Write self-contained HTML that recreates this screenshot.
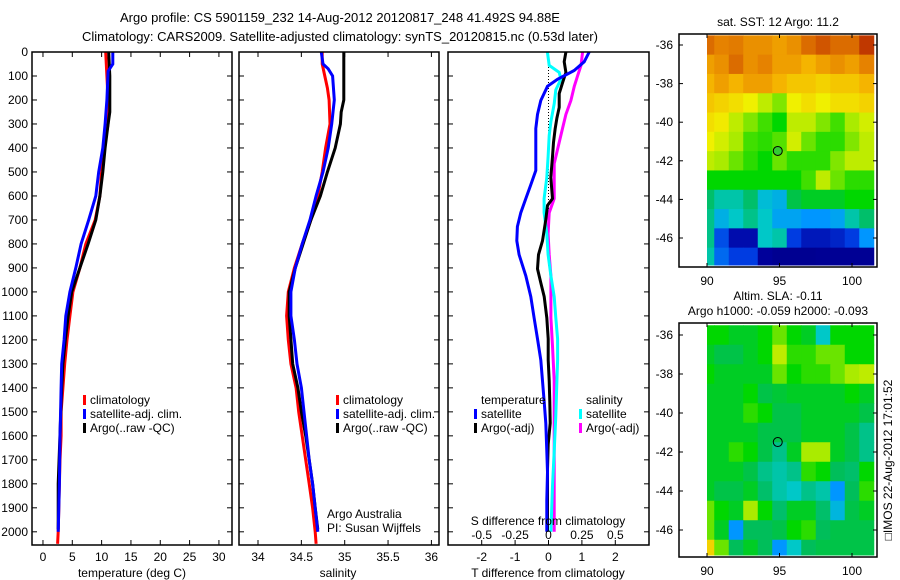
<!DOCTYPE html>
<html><head><meta charset="utf-8"><style>
body{margin:0;background:#fff}
svg{display:block;font-family:"Liberation Sans",sans-serif;font-size:12px}
</style></head><body>
<svg id="fig" width="900" height="580" viewBox="0 0 900 580">
<rect width="900" height="580" fill="#fff"/>
<text x="340" y="22" text-anchor="middle" font-size="13">Argo profile: CS 5901159_232 14-Aug-2012 20120817_248 41.492S 94.88E</text>
<text x="340" y="41" text-anchor="middle" font-size="13">Climatology: CARS2009. Satellite-adjusted climatology: synTS_20120815.nc (0.53d later)</text>
<g id="g1"></g>
<g id="g2"></g>
<g id="g3"></g>
<g id="m1"></g>
<g id="m2"></g>
<text transform="translate(892,460) rotate(-90)" text-anchor="middle">□IMOS 22-Aug-2012 17:01:52</text>
</svg>
<script>
// ---- Profile data ----
const tempDepth=[0,50,100,200,300,400,500,600,700,800,900,1000,1100,1200,1300,1400,1500,1600,1700,1800,2000,2050];
const tempClim=[10.7,10.8,10.9,11.1,11.1,10.4,10.0,9.7,8.9,7.3,6.3,5.1,4.6,4.1,3.7,3.4,3.1,3.1,2.9,2.8,2.6,2.5];
const tempSatDepth=[0,50,80,200,300,400,500,600,700,800,900,1000,1100,1200,1300,1400,1500,1600,1800,2000];
const tempSat=[11.9,11.9,11.1,10.9,10.6,10.2,9.5,9.0,7.8,6.5,5.6,4.6,3.9,3.6,3.2,3.1,3.0,2.9,2.8,2.6];
const tempArgoDepth=[0,100,250,300,400,500,600,700,800,900,1000,1100,1200,1300,1400,1800,1990];
const tempArgo=[11.2,11.4,11.4,11.1,10.6,10.2,9.7,9.0,7.7,6.3,4.9,4.3,3.8,3.4,3.2,2.6,2.6];

const salDepth=[0,50,100,150,200,300,400,500,600,700,800,900,1000,1100,1200,1300,1400,1500,1600,1700,1800,1900,2000,2050];
const salClim=[34.74,34.74,34.77,34.80,34.82,34.83,34.78,34.74,34.69,34.61,34.51,34.42,34.35,34.33,34.35,34.38,34.44,34.47,34.51,34.55,34.59,34.63,34.66,34.67];
const salSatDepth=[0,50,70,100,200,300,400,500,600,700,800,900,1000,1100,1200,1300,1400,1500,1600,1700,1800,1900,2000];
const salSat=[34.73,34.75,34.81,34.86,34.88,34.85,34.81,34.75,34.67,34.60,34.51,34.43,34.38,34.38,34.42,34.45,34.50,34.53,34.56,34.59,34.63,34.66,34.69];
const salArgoDepth=[0,200,250,300,400,500,600,700,800,900,1000,1100,1300,1400,1500,1600,1700,1800,1900,1990];
const salArgo=[34.99,34.99,34.96,34.95,34.89,34.80,34.72,34.61,34.52,34.43,34.36,34.36,34.40,34.46,34.50,34.55,34.59,34.63,34.66,34.69];

const dTSatDepth=[0,41,77,114,143,202,260,319,406,494,553,611,670,728,787,845,933,1020,1108,1196,1284,1371,1459,1547,1664,1751,1868,2000];
const dTSat=[1.22,1.07,0.77,0.27,-0.03,-0.23,-0.33,-0.38,-0.38,-0.38,-0.53,-0.68,-0.83,-0.93,-0.95,-0.88,-0.68,-0.53,-0.43,-0.33,-0.23,-0.18,-0.13,-0.08,-0.05,-0.03,-0.05,-0.05];
const dTArgoDepth=[0,41,85,129,173,231,275,319,377,436,523,611,640,699,787,845,904,962,1020,1108,1196,1284,1371,1459,1547,1635,1737,1868,2000];
const dTArgo=[0.52,0.47,0.52,0.42,0.32,0.32,0.25,0.20,0.15,0.12,0.07,0.12,-0.03,-0.08,-0.18,-0.30,-0.33,-0.23,-0.13,-0.05,-0.01,-0.01,0.02,0.04,0.05,-0.01,-0.03,-0.03,-0.03];
const dSSatDepth=[0,56,85,114,158,216,290,348,436,523,611,670,757,845,933,1020,1108,1196,1284,1371,1517,1664,1810,2000];
const dSSat=[-0.008,0.005,0.08,0.093,0.055,0.043,0.018,0.005,-0.003,-0.013,-0.033,-0.033,-0.013,-0.003,0.018,0.043,0.055,0.068,0.068,0.063,0.055,0.043,0.03,0.018];
const dSArgoDepth=[0,56,99,143,202,260,319,377,465,553,611,670,757,845,933,1020,1108,1225,1371,1517,1664,1810,2000];
const dSArgo=[0.255,0.243,0.218,0.193,0.168,0.13,0.105,0.08,0.043,0.043,0.043,0.005,-0.003,0.005,0.018,0.018,0.018,0.03,0.043,0.043,0.043,0.043,0.043];

const depthTicks=[0,100,200,300,400,500,600,700,800,900,1000,1100,1200,1300,1400,1500,1600,1700,1800,1900,2000];
const tempTicks=[0,5,10,15,20,25,30];
const salTicks=[34,34.5,35,35.5,36];
const salTickLabels=["34","34.5","35","35.5","36"];
const dTTicks=[-2,-1,0,1,2];
const dSTicks=[-0.5,-0.25,0,0.25,0.5];
const dSTickLabels=["-0.5","-0.25","0","0.25","0.5"];

// ---- Map data (colormap fraction 0..1), rows lat -36..-47, cols lon 90..101 ----
const mapLon=[90,91,92,93,94,95,96,97,98,99,100,101];
const mapLat=[-36,-37,-38,-39,-40,-41,-42,-43,-44,-45,-46,-47];
const sstGrid=[
[0.85,0.82,0.83,0.8,0.8,0.78,0.8,0.85,0.88,0.85,0.85,0.92],
[0.78,0.8,0.85,0.8,0.82,0.78,0.78,0.75,0.78,0.8,0.78,0.82],
[0.75,0.78,0.75,0.78,0.78,0.75,0.72,0.72,0.7,0.72,0.72,0.75],
[0.72,0.7,0.68,0.65,0.6,0.56,0.65,0.68,0.65,0.68,0.68,0.7],
[0.68,0.66,0.6,0.56,0.53,0.5,0.6,0.6,0.56,0.53,0.58,0.62],
[0.65,0.62,0.58,0.53,0.52,0.54,0.62,0.55,0.52,0.52,0.56,0.6],
[0.6,0.58,0.55,0.52,0.5,0.55,0.52,0.52,0.52,0.56,0.6,0.6],
[0.5,0.5,0.5,0.5,0.5,0.5,0.5,0.53,0.6,0.55,0.52,0.52],
[0.44,0.4,0.4,0.44,0.36,0.34,0.46,0.48,0.48,0.48,0.5,0.5],
[0.42,0.34,0.38,0.42,0.38,0.32,0.32,0.3,0.3,0.32,0.4,0.44],
[0.42,0.22,0.12,0.12,0.38,0.4,0.2,0.14,0.14,0.16,0.2,0.3],
[0.4,0.25,0.2,0.2,0.08,0.05,0.05,0.05,0.06,0.06,0.06,0.06]];
const slaGrid=[
[0.5,0.5,0.48,0.48,0.5,0.55,0.5,0.48,0.38,0.5,0.5,0.5],
[0.48,0.46,0.46,0.48,0.5,0.6,0.52,0.52,0.55,0.55,0.5,0.5],
[0.5,0.48,0.48,0.48,0.48,0.55,0.5,0.52,0.52,0.55,0.58,0.6],
[0.48,0.48,0.48,0.5,0.46,0.47,0.48,0.48,0.48,0.48,0.5,0.48],
[0.48,0.48,0.48,0.52,0.5,0.46,0.46,0.48,0.48,0.48,0.48,0.46],
[0.48,0.48,0.48,0.48,0.46,0.46,0.46,0.48,0.48,0.48,0.46,0.42],
[0.48,0.48,0.52,0.5,0.46,0.42,0.48,0.58,0.58,0.48,0.46,0.42],
[0.48,0.48,0.48,0.46,0.42,0.4,0.42,0.52,0.5,0.45,0.44,0.5],
[0.48,0.46,0.46,0.48,0.44,0.4,0.38,0.42,0.4,0.3,0.45,0.52],
[0.55,0.5,0.48,0.58,0.5,0.44,0.48,0.48,0.44,0.35,0.46,0.48],
[0.55,0.48,0.3,0.45,0.45,0.46,0.5,0.52,0.45,0.46,0.46,0.46],
[0.7,0.55,0.45,0.48,0.45,0.3,0.38,0.45,0.46,0.46,0.46,0.46]];
const mapLonTicks=[90,95,100];
const mapLatTicks=[-36,-38,-40,-42,-44,-46];
const floatLon=[94.88];
const floatLat=[-41.49];

const NS="http://www.w3.org/2000/svg";
function mk(tag,attrs,parent,txt){const e=document.createElementNS(NS,tag);for(const k in attrs)e.setAttribute(k,attrs[k]);if(txt!==undefined)e.textContent=txt;parent.appendChild(e);return e;}
const T0=52,B0=545,DMAX=2055;
const yD=d=>T0+d*(B0-T0)/DMAX;

function axesBox(g,x0,x1,name){
  const r=mk('rect',{x:x0,y:T0,width:x1-x0,height:B0-T0,fill:'none',stroke:'#000','stroke-width':1.5},g);
  
  
}
function depthTicksDraw(g,x0,x1,labels){
  depthTicks.forEach(d=>{
    const y=yD(d);
    mk('line',{x1:x0,y1:y,x2:x0+5,y2:y,stroke:'#000'},g);
    mk('line',{x1:x1,y1:y,x2:x1-5,y2:y,stroke:'#000'},g);
    if(labels){const t=mk('text',{x:x0-4,y:y+4,'text-anchor':'end'},g,String(d));
      
      }
  });
}
function xTicksDraw(g,xs,labels,fx,tb){
  xs.forEach((v,i)=>{const x=fx(v);
    mk('line',{x1:x,y1:B0,x2:x,y2:B0-5,stroke:'#000'},g);
    if(tb) mk('line',{x1:x,y1:T0,x2:x,y2:T0+5,stroke:'#000'},g);
    const t=mk('text',{x:x,y:B0+16,'text-anchor':'middle'},g,labels[i]);
    
    
  });
}
function line(g,fx,vals,depths,color,name){
  const pts=vals.map((v,i)=>fx(v).toFixed(1)+','+yD(depths[i]).toFixed(1)).join(' ');
  const p=mk('polyline',{points:pts,fill:'none',stroke:color,'stroke-width':3,'stroke-linejoin':'miter'},g);
  
  
}
function legendEntry(g,x,y,color,label){
  const r=mk('rect',{x:x,y:y-9,width:3,height:10,fill:color},g);
  
  
  const t=mk('text',{x:x+7,y:y},g,label);
  
  
}

// Panel 1: temperature
(function(){
  const g=document.getElementById('g1');const x0=32,x1=232;
  const fx=v=>x0+(v+1.87)*(x1-x0)/34.1;
  line(g,fx,tempClim,tempDepth,'#f00','temp-climatology-line');
  line(g,fx,tempArgo,tempArgoDepth,'#000','temp-argo-line');
  line(g,fx,tempSat,tempSatDepth,'#00f','temp-satellite-line');
  axesBox(g,x0,x1,'temperature-axes');
  depthTicksDraw(g,x0,x1,true);
  xTicksDraw(g,tempTicks,tempTicks.map(String),fx,true);
  const t=mk('text',{x:132,y:577,'text-anchor':'middle'},g,'temperature (deg C)');
  
  
  legendEntry(g,83,404,'#f00','climatology');
  legendEntry(g,83,418,'#00f','satellite-adj. clim.');
  legendEntry(g,83,432,'#000','Argo(..raw -QC)');
})();
// Panel 2: salinity
(function(){
  const g=document.getElementById('g2');const x0=239,x1=439;
  const fx=v=>258+(v-34)*86.7;
  line(g,fx,salClim,salDepth,'#f00','sal-climatology-line');
  line(g,fx,salArgo,salArgoDepth,'#000','sal-argo-line');
  line(g,fx,salSat,salSatDepth,'#00f','sal-satellite-line');
  axesBox(g,x0,x1,'salinity-axes');
  depthTicksDraw(g,x0,x1,false);
  xTicksDraw(g,salTicks,salTickLabels,fx,true);
  const t=mk('text',{x:338,y:577,'text-anchor':'middle'},g,'salinity');
  
  
  legendEntry(g,336,404,'#f00','climatology');
  legendEntry(g,336,418,'#00f','satellite-adj. clim.');
  legendEntry(g,336,432,'#000','Argo(..raw -QC)');
  const a=mk('text',{x:327,y:518},g,'Argo Australia');
  
  
  const b=mk('text',{x:327,y:532},g,'PI: Susan Wijffels');
  
  
})();
// Panel 3: differences
(function(){
  const g=document.getElementById('g3');const x0=448,x1=649;
  const fx=v=>548.5+v*33.4;
  const fs=v=>fx(v*4);
  const z=mk('line',{x1:fx(0),y1:yD(0),x2:fx(0),y2:yD(900),stroke:'#000','stroke-dasharray':'1,2'},g);
  
  
  line(g,fs,dSArgo,dSArgoDepth,'#f0f','sal-argo-diff-line');
  line(g,fs,dSSat,dSSatDepth,'#0ff','sal-satellite-diff-line');
  line(g,fx,dTArgo,dTArgoDepth,'#000','temp-argo-diff-line');
  line(g,fx,dTSat,dTSatDepth,'#00f','temp-satellite-diff-line');
  axesBox(g,x0,x1,'difference-axes');
  depthTicks.forEach(d=>{const y=yD(d);mk('line',{x1:x1,y1:y,x2:x1-5,y2:y,stroke:'#000'},g);mk('line',{x1:x0,y1:y,x2:x0+5,y2:y,stroke:'#000'},g);});
  xTicksDraw(g,dTTicks,dTTicks.map(String),fx,false);
  dSTicks.forEach((v,i)=>{const t=mk('text',{x:fs(v),y:539,'text-anchor':'middle'},g,dSTickLabels[i]);
    
    });
  const s=mk('text',{x:548,y:525,'text-anchor':'middle'},g,'S difference from climatology');
  
  
  const t=mk('text',{x:548,y:577,'text-anchor':'middle'},g,'T difference from climatology');
  
  
  const h1=mk('text',{x:481,y:404},g,'temperature');
  
  
  const h2=mk('text',{x:586,y:404},g,'salinity');
  
  
  legendEntry(g,474,418,'#00f','satellite');
  legendEntry(g,474,432,'#000','Argo(-adj)');
  legendEntry(g,579,418,'#0ff','satellite');
  legendEntry(g,579,432,'#f0f','Argo(-adj)');
})();

// Colormap (fraction -> colour)
const cmapStops=[[0,[0,0,130]],[0.1,[0,0,160]],[0.2,[0,60,225]],[0.3,[0,150,255]],[0.38,[0,200,200]],[0.45,[0,190,90]],[0.5,[0,215,0]],[0.58,[170,235,0]],[0.65,[240,240,0]],[0.75,[245,180,0]],[0.82,[230,130,0]],[0.9,[200,70,0]],[1,[160,0,0]]];
function cmap(v){
  v=Math.max(0,Math.min(1,v));
  for(let i=1;i<cmapStops.length;i++){
    const [a,ca]=cmapStops[i-1],[b,cb]=cmapStops[i];
    if(v<=b){const t=(v-a)/(b-a);return 'rgb('+ca.map((c,k)=>Math.round(c+(cb[k]-c)*t)).join(',')+')';}
  }
  return 'rgb(160,0,0)';
}
function drawMap(id,grid,ax,titles,fillCircle){
  const g=document.getElementById(id);
  const X0=679,X1=877,Y0=ax.y0,Y1=ax.y1;
  const fx=lon=>707+(lon-90)*14.5;
  const fy=lat=>ax.latTop+(-36-lat)*ax.ppd;
  mapLat.forEach((lat,r)=>{mapLon.forEach((lon,c)=>{
    const x=Math.max(fx(lon-0.5),707), xe=Math.min(fx(lon+0.5),876);
    const y=Math.max(fy(lat+0.5),Y0+1), ye=Math.min(fy(lat-0.5),Y1-2);
    const cell=mk('rect',{x:x,y:y,width:xe-x+0.5,height:ye-y+0.5,fill:cmap(grid[r][c])},g);
    
    
  });});
  const box=mk('rect',{x:X0,y:Y0,width:X1-X0,height:Y1-Y0,fill:'none',stroke:'#000','stroke-width':1.5},g);
  
  
  mapLonTicks.forEach(l=>{const x=fx(l);mk('line',{x1:x,y1:Y1,x2:x,y2:Y1-4,stroke:'#000'},g);mk('line',{x1:x,y1:Y0,x2:x,y2:Y0+4,stroke:'#000'},g);
    const t=mk('text',{x:x,y:Y1+18,'text-anchor':'middle'},g,String(l));
    
    });
  mapLatTicks.forEach(l=>{const y=fy(l);mk('line',{x1:X0,y1:y,x2:X0+4,y2:y,stroke:'#000'},g);mk('line',{x1:X1,y1:y,x2:X1-4,y2:y,stroke:'#000'},g);
    const t=mk('text',{x:673,y:y+4,'text-anchor':'end'},g,String(l));
    
    });
  titles.forEach((s,i)=>{const t=mk('text',{x:778,y:ax.titleY+i*15,'text-anchor':'middle'},g,s);
    
    });
  const c=mk('circle',{cx:fx(floatLon[0]),cy:fy(floatLat[0]),r:4.5,fill:fillCircle?'#3c3':'none',stroke:'#000','stroke-width':1},g);
  
  
}
drawMap('m1',sstGrid,{y0:34,y1:267,latTop:45,ppd:19.3,titleY:26},['sat. SST: 12 Argo: 11.2'],true);
drawMap('m2',slaGrid,{y0:323,y1:557,latTop:335,ppd:19.5,titleY:300},['Altim. SLA: -0.11','Argo h1000: -0.059 h2000: -0.093'],false);
</script>
</body></html>
